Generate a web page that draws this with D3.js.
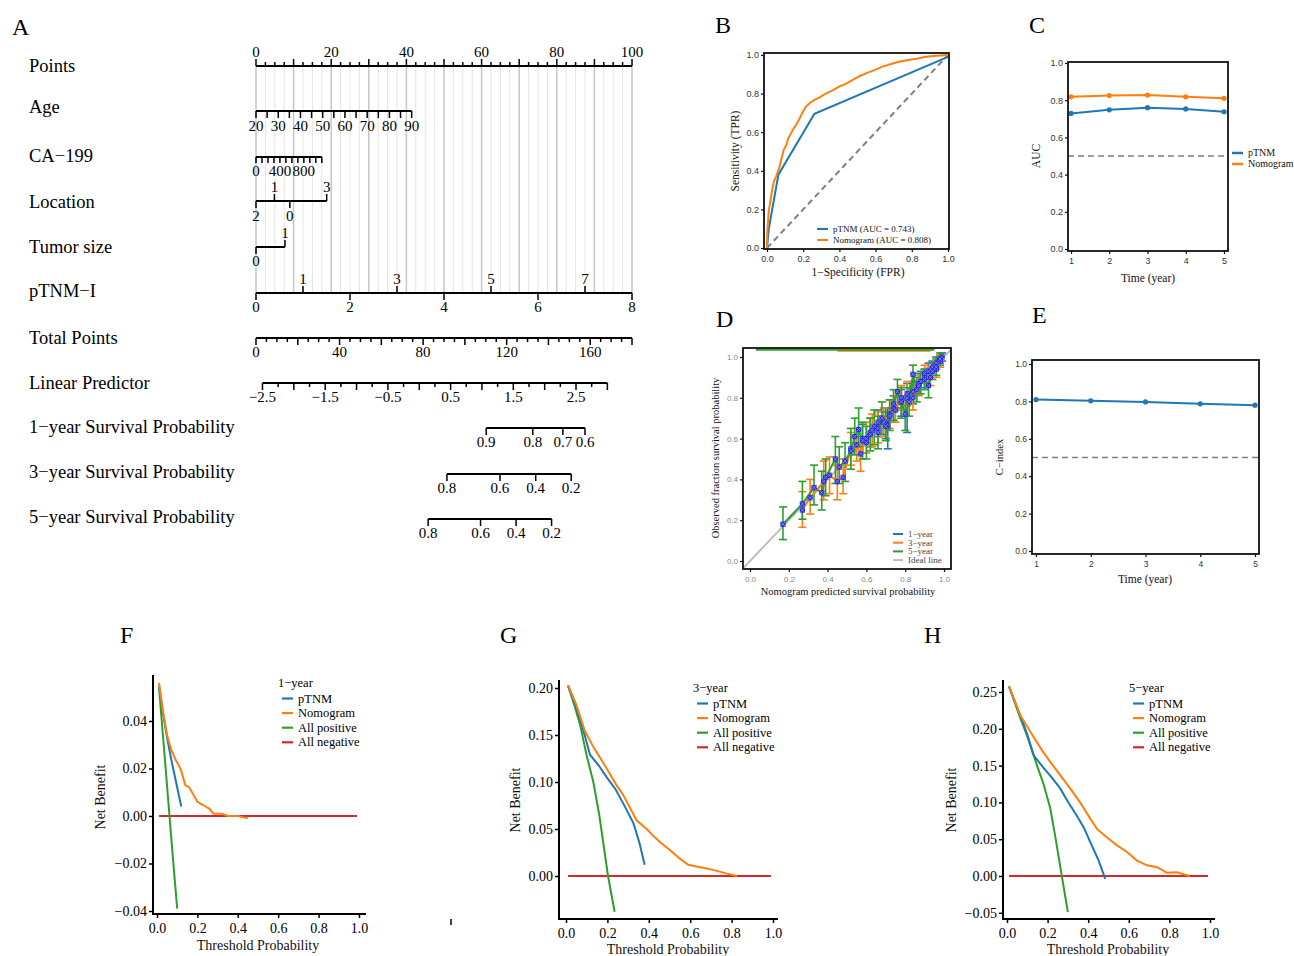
<!DOCTYPE html>
<html>
<head>
<meta charset="utf-8">
<script src="https://cdn.jsdelivr.net/npm/d3@7/dist/d3.min.js"></script>
<style>
  body { margin: 0; background: #fff; }
  text { font-family: "Liberation Serif", "Times New Roman", serif; }
</style>
</head>
<body>
<div id="fig"></div>
<script>
// ---------------- data ----------------
// A: nomogram (positions of each level expressed in "Points")
const pointTicks = d3.range(0, 100.01, 2.5);
const pointLabels = [0, 20, 40, 60, 80, 100];
const ageTicks = d3.range(20, 90.01, 5);
const ageLabels = [20, 30, 40, 50, 60, 70, 80, 90];
const ageDomain = [20, 90], agePoints = [0, 41.4];
const caTicks = d3.range(0, 1100.01, 100);
const caLabels = [0, 400, 800];
const caDomain = [0, 1100], caPoints = [0, 17.5];
const locationLevels = ["2", "1", "0", "3"];
const locationPoints = [0, 4.9, 9.0, 18.8];
const locationAbove = [false, true, false, true];
const tumorLevels = ["0", "1"];
const tumorPoints = [0, 7.7];
const tnmLevels = [0, 1, 2, 3, 4, 5, 6, 7, 8];
const tnmDomain = [0, 8], tnmPoints = [0, 100];
const totalTicks = d3.range(0, 180.01, 5);
const totalLabels = [0, 40, 80, 120, 160];
const totalMax = 180;
const lpTicks = d3.range(-2.5, 3.01, 0.25);
const lpLabels = [-2.5, -1.5, -0.5, 0.5, 1.5, 2.5];
const lpDomain = [-2.5, 2.5], lpTotal = [3.1, 153.2];
const surv1Labels = ["0.9", "0.8", "0.7", "0.6"], surv1Total = [110.2, 132.5, 146.9, 157.5];
const surv3Labels = ["0.8", "0.6", "0.4", "0.2"], surv3Total = [91.4, 116.8, 133.9, 150.9];
const surv5Labels = ["0.8", "0.6", "0.4", "0.2"], surv5Total = [82.4, 107.5, 124.5, 141.5];
const rowNames = ["Points", "Age", "CA\u2212199", "Location", "Tumor size", "pTNM\u2212I",
  "Total Points", "Linear Predictor", "1\u2212year Survival Probability",
  "3\u2212year Survival Probability", "5\u2212year Survival Probability"];

// B: ROC
const rocTnm = [[0, 0], [0.01, 0.1], [0.063, 0.38], [0.262, 0.695], [1, 0.99], [1, 1]];
const rocNomo = [[0, 0], [0.002, 0.09], [0.01, 0.195], [0.02, 0.25], [0.028, 0.3], [0.04, 0.35],
  [0.05, 0.37], [0.066, 0.41], [0.074, 0.44], [0.085, 0.48], [0.093, 0.51], [0.105, 0.53],
  [0.117, 0.567], [0.13, 0.59], [0.148, 0.62], [0.162, 0.64], [0.176, 0.663], [0.195, 0.7],
  [0.213, 0.73], [0.235, 0.75], [0.26, 0.766], [0.29, 0.78], [0.324, 0.80], [0.36, 0.815],
  [0.398, 0.836], [0.435, 0.85], [0.472, 0.87], [0.51, 0.89], [0.546, 0.905], [0.59, 0.92],
  [0.639, 0.94], [0.685, 0.953], [0.731, 0.965], [0.78, 0.974], [0.824, 0.98], [0.87, 0.99],
  [0.917, 0.995], [0.96, 0.998], [1, 1]];
const rocNames = ["pTNM (AUC = 0.743)", "Nomogram (AUC = 0.808)"];

// C: time-dependent AUC
const years = [1, 2, 3, 4, 5];
const aucTnm = [0.729, 0.748, 0.760, 0.753, 0.738];
const aucNomo = [0.818, 0.825, 0.828, 0.818, 0.810];

// D: calibration [predicted, observed, lower, upper]
const cal1 = [[0.58, 0.60, 0.53, 0.67], [0.62, 0.63, 0.56, 0.70], [0.66, 0.68, 0.61, 0.74],
  [0.70, 0.68, 0.60, 0.75], [0.71, 0.66, 0.55, 0.75], [0.74, 0.75, 0.68, 0.81],
  [0.78, 0.78, 0.71, 0.84], [0.81, 0.80, 0.63, 0.87], [0.84, 0.83, 0.77, 0.88],
  [0.87, 0.87, 0.82, 0.92], [0.90, 0.90, 0.85, 0.94], [0.92, 0.93, 0.89, 0.97],
  [0.94, 0.95, 0.91, 0.98], [0.96, 0.97, 0.94, 1.0], [0.98, 0.99, 0.97, 1.01], [0.99, 1.0, 0.98, 1.02]];
const cal3 = [[0.27, 0.25, 0.165, 0.34], [0.31, 0.31, 0.23, 0.40], [0.38, 0.39, 0.30, 0.49],
  [0.41, 0.42, 0.33, 0.51], [0.45, 0.39, 0.30, 0.47], [0.48, 0.41, 0.33, 0.50],
  [0.52, 0.55, 0.47, 0.63], [0.55, 0.57, 0.49, 0.65], [0.57, 0.525, 0.44, 0.61],
  [0.60, 0.60, 0.53, 0.68], [0.63, 0.64, 0.56, 0.72], [0.66, 0.65, 0.58, 0.73],
  [0.69, 0.68, 0.61, 0.75], [0.72, 0.72, 0.65, 0.79], [0.75, 0.74, 0.68, 0.81],
  [0.78, 0.80, 0.74, 0.86], [0.81, 0.82, 0.76, 0.88], [0.84, 0.80, 0.74, 0.86],
  [0.87, 0.86, 0.81, 0.91], [0.90, 0.92, 0.87, 0.96], [0.93, 0.90, 0.86, 0.95],
  [0.96, 0.94, 0.90, 0.98], [0.98, 0.98, 0.95, 1.01]];
const cal5 = [[0.17, 0.18, 0.105, 0.265], [0.27, 0.28, 0.205, 0.39], [0.33, 0.36, 0.275, 0.47],
  [0.37, 0.335, 0.25, 0.44], [0.39, 0.41, 0.32, 0.50], [0.44, 0.50, 0.38, 0.61],
  [0.46, 0.46, 0.38, 0.56], [0.49, 0.49, 0.39, 0.58], [0.52, 0.54, 0.45, 0.65],
  [0.54, 0.61, 0.52, 0.70], [0.56, 0.645, 0.56, 0.75], [0.58, 0.59, 0.50, 0.68],
  [0.60, 0.58, 0.50, 0.66], [0.62, 0.62, 0.54, 0.70], [0.64, 0.66, 0.57, 0.74],
  [0.66, 0.63, 0.55, 0.71], [0.68, 0.70, 0.62, 0.78], [0.70, 0.66, 0.59, 0.73],
  [0.72, 0.71, 0.64, 0.79], [0.74, 0.77, 0.69, 0.84], [0.76, 0.83, 0.75, 0.89],
  [0.78, 0.78, 0.70, 0.85], [0.80, 0.72, 0.64, 0.79], [0.82, 0.78, 0.71, 0.85],
  [0.84, 0.915, 0.86, 0.96], [0.86, 0.84, 0.78, 0.90], [0.88, 0.88, 0.82, 0.93],
  [0.90, 0.89, 0.84, 0.94], [0.92, 0.86, 0.80, 0.91], [0.94, 0.93, 0.89, 0.97],
  [0.96, 0.95, 0.91, 0.99], [0.98, 0.99, 0.96, 1.02]];
const calTop5 = [[0.03, 1.036], [0.95, 1.036]];
const calTop3 = [[0.45, 1.031], [0.93, 1.031]];
const calNames = ["1\u2212year", "3\u2212year", "5\u2212year", "Ideal line"];

// E: C-index
const cIndex = [0.810, 0.803, 0.797, 0.787, 0.780];

// F-H: decision curves [threshold, net benefit]
const dca1 = {
  tnm: [[0.01, 0.055], [0.03, 0.043], [0.05, 0.033], [0.07, 0.024], [0.09, 0.016], [0.11, 0.008], [0.12, 0.004]],
  nomo: [[0.01, 0.056], [0.03, 0.044], [0.05, 0.034], [0.07, 0.028], [0.09, 0.024], [0.11, 0.021],
    [0.12, 0.019], [0.14, 0.013], [0.16, 0.012], [0.18, 0.009], [0.2, 0.006], [0.22, 0.005],
    [0.24, 0.004], [0.26, 0.003], [0.28, 0.001], [0.3, 0.001], [0.32, 0.001], [0.35, 0.0],
    [0.4, 0.0], [0.45, -0.001]],
  pos: [[0.01, 0.054], [0.04, 0.023], [0.06, 0.002], [0.08, -0.019], [0.10, -0.039]],
  neg: [[0.01, 0], [0.99, 0]]
};
const dca3 = {
  tnm: [[0.01, 0.202], [0.05, 0.179], [0.09, 0.15], [0.116, 0.129], [0.16, 0.117], [0.197, 0.105],
    [0.24, 0.092], [0.277, 0.077], [0.326, 0.056], [0.355, 0.035], [0.38, 0.012]],
  nomo: [[0.01, 0.203], [0.05, 0.182], [0.09, 0.155], [0.13, 0.138], [0.17, 0.124], [0.2, 0.113],
    [0.24, 0.098], [0.277, 0.086], [0.31, 0.072], [0.342, 0.059], [0.39, 0.05], [0.42, 0.043],
    [0.455, 0.036], [0.5, 0.028], [0.55, 0.0185], [0.59, 0.012], [0.63, 0.010], [0.68, 0.008],
    [0.72, 0.006], [0.777, 0.0025], [0.826, 0.0]],
  pos: [[0.01, 0.203], [0.04, 0.182], [0.068, 0.161], [0.1, 0.128], [0.132, 0.1], [0.16, 0.066],
    [0.203, 0.0], [0.235, -0.038]],
  neg: [[0.01, 0], [0.99, 0]]
};
const dca5 = {
  tnm: [[0.01, 0.257], [0.066, 0.218], [0.1, 0.192], [0.131, 0.164], [0.18, 0.147], [0.22, 0.134],
    [0.262, 0.119], [0.3, 0.101], [0.344, 0.082], [0.38, 0.065], [0.41, 0.046], [0.45, 0.022],
    [0.484, -0.004]],
  nomo: [[0.01, 0.258], [0.066, 0.218], [0.115, 0.196], [0.172, 0.171], [0.213, 0.155],
    [0.262, 0.137], [0.311, 0.119], [0.36, 0.10], [0.41, 0.078], [0.443, 0.064], [0.49, 0.053],
    [0.54, 0.042], [0.59, 0.033], [0.64, 0.021], [0.69, 0.0145], [0.74, 0.012], [0.787, 0.0045],
    [0.836, 0.005], [0.9, 0.0]],
  pos: [[0.01, 0.258], [0.066, 0.214], [0.1, 0.19], [0.148, 0.15], [0.18, 0.125], [0.213, 0.092],
    [0.24, 0.05], [0.27, 0.0], [0.3, -0.049]],
  neg: [[0.01, 0], [0.99, 0]]
};
const dcaNames = ["pTNM", "Nomogram", "All positive", "All negative"];

const blue = "#1f77b4", orange = "#ff7f0e", green = "#2ca02c", red = "#d62728";
const sans = '"Liberation Sans", Arial, sans-serif';

// ---------------- figure ----------------
const svg = d3.select("#fig").append("svg").attr("width", 1294).attr("height", 956);

[["A", 12, 35], ["B", 715, 33], ["C", 1029, 33], ["D", 716, 327], ["E", 1032, 323],
 ["F", 120, 643], ["G", 500, 643], ["H", 924, 643]].forEach(([t, x, y]) => {
  svg.append("text").attr("x", x).attr("y", y).style("font-size", "24px").text(t);
});

// ---- A: nomogram ----
const A = svg.append("g");
const ptsX = d3.scaleLinear().domain([0, 100]).range([256, 632]);
const totX = d3.scaleLinear().domain([0, totalMax]).range([256, 632]);

A.selectAll(".grid").data(pointTicks).join("line")
  .attr("x1", d => ptsX(d)).attr("x2", d => ptsX(d))
  .attr("y1", 66).attr("y2", 293)
  .attr("stroke", d => d % 10 === 0 ? "#c6c6c6" : "#e4e4e4")
  .attr("stroke-width", d => d % 10 === 0 ? 1.5 : 1);

const rowY = [72, 113, 162, 208, 253, 297, 344, 389, 433, 478, 523];
rowNames.forEach((n, i) => {
  A.append("text").attr("x", 29).attr("y", rowY[i]).style("font-size", "18.5px").text(n);
});

function hline(x1, x2, y) {
  A.append("line").attr("x1", x1).attr("x2", x2).attr("y1", y).attr("y2", y)
    .attr("stroke", "#000").attr("stroke-width", 2);
}
function tick(x, y, len) {
  A.append("line").attr("x1", x).attr("x2", x).attr("y1", y).attr("y2", y + len)
    .attr("stroke", "#000").attr("stroke-width", 1.5);
}
function lab(x, y, t) {
  A.append("text").attr("x", x).attr("y", y).attr("text-anchor", "middle")
    .style("font-size", "15px").text(t);
}

// Points
hline(ptsX(0), ptsX(100), 66);
pointTicks.forEach(d => tick(ptsX(d), 66, d % 10 === 0 ? -7 : -4));
pointLabels.forEach(d => lab(ptsX(d), 57, d));

// Age
const ageX = d => ptsX(d3.scaleLinear().domain(ageDomain).range(agePoints)(d));
hline(ageX(20), ageX(90), 111);
ageTicks.forEach(d => tick(ageX(d), 111, 7));
ageLabels.forEach(d => lab(ageX(d), 131, d));

// CA-199
const caX = d => ptsX(d3.scaleLinear().domain(caDomain).range(caPoints)(d));
hline(caX(0), caX(1100), 157);
caTicks.forEach(d => tick(caX(d), 157, 6));
caLabels.forEach(d => lab(caX(d), 176, d));

// Location
hline(ptsX(0), ptsX(d3.max(locationPoints)), 201);
locationLevels.forEach((l, i) => {
  const x = ptsX(locationPoints[i]);
  tick(x, 201, locationAbove[i] ? -7 : 7);
  lab(x, locationAbove[i] ? 192 : 221, l);
});

// Tumor size
hline(ptsX(0), ptsX(d3.max(tumorPoints)), 247);
tumorLevels.forEach((l, i) => {
  const x = ptsX(tumorPoints[i]);
  tick(x, 247, i ? -7 : 7);
  lab(x, i ? 238 : 266, l);
});

// pTNM-I
const tnmX = d => ptsX(d3.scaleLinear().domain(tnmDomain).range(tnmPoints)(d));
hline(tnmX(0), tnmX(8), 293);
tnmLevels.forEach(d => {
  const odd = d % 2 === 1;
  tick(tnmX(d), 293, odd ? -7 : 7);
  lab(tnmX(d), odd ? 284 : 312, d);
});

// Total points
hline(totX(0), totX(totalMax), 338);
totalTicks.forEach(d => tick(totX(d), 338, d % 20 === 0 ? 7 : 4));
totalLabels.forEach(d => lab(totX(d), 357, d));

// Linear predictor
const lpX = d => totX(d3.scaleLinear().domain(lpDomain).range(lpTotal)(d));
hline(lpX(-2.5), lpX(3.0), 383);
lpTicks.forEach(d => tick(lpX(d), 383, Math.abs(d * 2 - Math.round(d * 2)) < 1e-6 ? 7 : 4));
lpLabels.forEach(d => lab(lpX(d), 402, d3.format(".1f")(d)));

// Survival probabilities
[[surv1Labels, surv1Total, 428], [surv3Labels, surv3Total, 474], [surv5Labels, surv5Total, 519]]
  .forEach(([labels, tots, y]) => {
    hline(totX(d3.min(tots)), totX(d3.max(tots)), y);
    tots.forEach((t, i) => {
      tick(totX(t), y, 7);
      lab(totX(t), y + 19, labels[i]);
    });
  });

// ---- shared helpers for boxed panels ----
function boxed(g, x, y, frame, xt, yt, xf, yf, fs, col) {
  g.append("rect").attr("x", frame[0]).attr("y", frame[2])
    .attr("width", frame[1] - frame[0]).attr("height", frame[3] - frame[2])
    .attr("fill", "none").attr("stroke", "#111").attr("stroke-width", 1.8);
  const ax = g.append("g").attr("transform", `translate(0,${frame[3]})`)
    .call(d3.axisBottom(x).tickValues(xt).tickFormat(xf).tickSize(3).tickPadding(4));
  const ay = g.append("g").attr("transform", `translate(${frame[0]},0)`)
    .call(d3.axisLeft(y).tickValues(yt).tickFormat(yf).tickSize(3).tickPadding(2));
  [ax, ay].forEach(a => {
    a.select(".domain").remove();
    a.selectAll("line").attr("stroke", "#111").attr("stroke-width", 1.2);
    a.selectAll("text").style("font-family", sans).style("font-size", fs + "px").attr("fill", col);
  });
}
function title(g, x, y, t, fs, rot) {
  g.append("text").attr("text-anchor", "middle")
    .attr("transform", `translate(${x},${y})` + (rot ? " rotate(-90)" : ""))
    .style("font-size", fs + "px").attr("fill", "#111").text(t);
}
function legendRow(g, x, y, len, color, t, fs, col, w) {
  g.append("line").attr("x1", x).attr("x2", x + len).attr("y1", y).attr("y2", y)
    .attr("stroke", color).attr("stroke-width", w || 2);
  g.append("text").attr("x", x + len + 5).attr("y", y).attr("dy", "0.33em")
    .style("font-size", fs + "px").attr("fill", col || "#111").text(t);
}

// ---- B: ROC ----
const B = svg.append("g");
const bx = d3.scaleLinear().domain([0, 1]).range([767, 948]);
const by = d3.scaleLinear().domain([0, 1]).range([248, 55]);
const bline = d3.line().x(d => bx(d[0])).y(d => by(d[1]));
B.append("path").datum([[0, 0], [1, 1]]).attr("d", bline).attr("fill", "none")
  .attr("stroke", "#7f7f7f").attr("stroke-width", 2).attr("stroke-dasharray", "6,4");
B.append("path").datum(rocTnm).attr("d", bline).attr("fill", "none").attr("stroke", blue).attr("stroke-width", 2);
B.append("path").datum(rocNomo).attr("d", bline).attr("fill", "none").attr("stroke", orange).attr("stroke-width", 2);
boxed(B, bx, by, [764, 949, 53, 249], d3.range(0, 1.01, 0.2), d3.range(0, 1.01, 0.2),
  d3.format(".1f"), d3.format(".1f"), 9, "#333");
title(B, 858, 276, "1\u2212Specificity (FPR)", 11.5);
title(B, 739, 151, "Sensitivity (TPR)", 11.5, true);
legendRow(B, 817, 229, 11, blue, rocNames[0], 9);
legendRow(B, 817, 240, 11, orange, rocNames[1], 9);

// ---- C: AUC over time ----
const C = svg.append("g");
const cx = d3.scaleLinear().domain([1, 5]).range([1071, 1224]);
const cy = d3.scaleLinear().domain([0, 1]).range([249, 63]);
C.append("line").attr("x1", 1068).attr("x2", 1228).attr("y1", cy(0.5)).attr("y2", cy(0.5))
  .attr("stroke", "#7f7f7f").attr("stroke-width", 1.6).attr("stroke-dasharray", "6,4");
[[aucTnm, blue], [aucNomo, orange]].forEach(([vals, col]) => {
  C.append("path").datum(vals).attr("fill", "none").attr("stroke", col).attr("stroke-width", 2)
    .attr("d", d3.line().x((d, i) => cx(years[i])).y(d => cy(d)));
  C.selectAll(null).data(vals).join("circle").attr("cx", (d, i) => cx(years[i])).attr("cy", d => cy(d))
    .attr("r", 2.6).attr("fill", col);
});
boxed(C, cx, cy, [1068, 1228, 62, 251], years, d3.range(0, 1.01, 0.2), d3.format("d"), d3.format(".1f"), 9, "#333");
title(C, 1148, 282, "Time (year)", 11.5);
title(C, 1040, 156, "AUC", 11.5, true);
legendRow(C, 1232, 153, 11, blue, "pTNM", 10, "#111", 2.5);
legendRow(C, 1232, 164, 11, orange, "Nomogram", 10, "#111", 2.5);

// ---- D: calibration ----
const D = svg.append("g");
const dx = d3.scaleLinear().domain([0, 1]).range([750, 944]);
const dy = d3.scaleLinear().domain([0, 1]).range([561, 357]);
svg.append("clipPath").attr("id", "clipD").append("rect")
  .attr("x", 743).attr("y", 348).attr("width", 208).attr("height", 221);
const Dc = D.append("g").attr("clip-path", "url(#clipD)");
const dline = d3.line().x(d => dx(d[0])).y(d => dy(d[1]));
Dc.append("path").datum([[-0.05, -0.05], [1.05, 1.05]]).attr("d", dline)
  .attr("stroke", "#bdbdbd").attr("stroke-width", 2).attr("fill", "none");
Dc.append("path").datum(calTop3).attr("d", dline).attr("stroke", orange).attr("stroke-width", 2).attr("fill", "none");
Dc.append("path").datum(calTop5).attr("d", dline).attr("stroke", green).attr("stroke-width", 2).attr("fill", "none");
const calSets = [[cal1, blue], [cal3, orange], [cal5, green]];
calSets.forEach(([set, col]) => {
  const eb = Dc.append("g").attr("stroke", col).attr("stroke-width", 1.6);
  set.forEach(d => {
    eb.append("line").attr("x1", dx(d[0])).attr("x2", dx(d[0])).attr("y1", dy(d[2])).attr("y2", dy(d[3]));
    eb.append("line").attr("x1", dx(d[0]) - 4).attr("x2", dx(d[0]) + 4).attr("y1", dy(d[2])).attr("y2", dy(d[2]));
    eb.append("line").attr("x1", dx(d[0]) - 4).attr("x2", dx(d[0]) + 4).attr("y1", dy(d[3])).attr("y2", dy(d[3]));
  });
});
calSets.forEach(([set, col]) => {
  Dc.append("path").datum(set).attr("d", dline).attr("fill", "none").attr("stroke", col).attr("stroke-width", 2);
});
calSets.forEach(([set]) => {
  set.forEach(d => {
    const px = dx(d[0]), py = dy(d[1]);
    Dc.append("rect").attr("x", px - 2.6).attr("y", py - 2.6).attr("width", 5.2).attr("height", 5.2).attr("fill", "#2626d9");
    Dc.append("path").attr("d", `M${px - 2.2},${py - 2.2}L${px + 2.2},${py + 2.2}M${px - 2.2},${py + 2.2}L${px + 2.2},${py - 2.2}`)
      .attr("stroke", "#9a9aff").attr("stroke-width", 0.8);
  });
});
boxed(D, dx, dy, [743, 951, 348, 569], d3.range(0, 1.01, 0.2), d3.range(0, 1.01, 0.2),
  d3.format(".1f"), d3.format(".1f"), 8, "#888");
title(D, 848, 595, "Nomogram predicted survival probability", 10.5);
title(D, 719, 458, "Observed fraction survival probability", 10.5, true);
[blue, orange, green, "#bdbdbd"].forEach((c, i) => {
  legendRow(D, 893, 534 + i * 8.7, 10, c, calNames[i], 9, "#444", 2);
});

// ---- E: C-index ----
const E = svg.append("g");
const ex = d3.scaleLinear().domain([1, 5]).range([1036, 1255]);
const ey = d3.scaleLinear().domain([0, 1]).range([551, 364]);
E.append("line").attr("x1", 1032).attr("x2", 1259).attr("y1", ey(0.5)).attr("y2", ey(0.5))
  .attr("stroke", "#7f7f7f").attr("stroke-width", 1.6).attr("stroke-dasharray", "6,4");
E.append("path").datum(cIndex).attr("fill", "none").attr("stroke", blue).attr("stroke-width", 2)
  .attr("d", d3.line().x((d, i) => ex(years[i])).y(d => ey(d)));
E.selectAll(null).data(cIndex).join("circle").attr("cx", (d, i) => ex(years[i])).attr("cy", d => ey(d))
  .attr("r", 2.6).attr("fill", blue);
boxed(E, ex, ey, [1032, 1259, 360, 554], years, d3.range(0, 1.01, 0.2), d3.format("d"), d3.format(".1f"), 8.5, "#333");
title(E, 1145, 583, "Time (year)", 11.5);
title(E, 1003, 457, "C\u2212index", 10.5, true);

// ---- F-H: decision curves ----
function dcaPanel(set, yearLabel, xr, yd, yr, spine, yt, leg, tpos) {
  const g = svg.append("g");
  const x = d3.scaleLinear().domain([0, 1]).range(xr);
  const y = d3.scaleLinear().domain(yd).range(yr);
  const ln = d3.line().x(d => x(d[0])).y(d => y(d[1]));
  [[set.neg, red], [set.pos, green], [set.tnm, blue], [set.nomo, orange]].forEach(([s, c]) => {
    g.append("path").datum(s).attr("d", ln).attr("fill", "none").attr("stroke", c).attr("stroke-width", 2);
  });
  const ax = g.append("g").attr("transform", `translate(0,${spine.bottom})`)
    .call(d3.axisBottom(x).tickValues(d3.range(0, 1.01, 0.2)).tickFormat(d3.format(".1f")).tickSize(4).tickPadding(5));
  const ay = g.append("g").attr("transform", `translate(${spine.left},0)`)
    .call(d3.axisLeft(y).tickValues(yt).tickFormat(d3.format(".2f")).tickSize(4).tickPadding(2));
  [ax, ay].forEach(a => {
    a.select(".domain").remove();
    a.selectAll("line").attr("stroke", "#000").attr("stroke-width", 1.5);
    a.selectAll("text").style("font-family", '"Liberation Serif", serif').style("font-size", "14px").attr("fill", "#000");
  });
  g.append("path").attr("d", `M${spine.left},${spine.top}V${spine.bottom}H${spine.right}`)
    .attr("fill", "none").attr("stroke", "#000").attr("stroke-width", 2);
  title(g, tpos[0], tpos[1], "Threshold Probability", 14);
  title(g, tpos[2], tpos[3], "Net Benefit", 14, true);
  g.append("text").attr("x", leg[0] - 4).attr("y", leg[1]).attr("dy", "0.33em")
    .style("font-size", "12.5px").text(yearLabel);
  [blue, orange, green, red].forEach((c, i) => {
    legendRow(g, leg[0], leg[1] + 15.5 + i * 14.6, 11, c, dcaNames[i], 12.5, "#000", 2.2);
  });
}
dcaPanel(dca1, "1\u2212year", [157, 359], [0, 0.04], [816, 721],
  { left: 153, top: 675, bottom: 914, right: 366 }, [-0.04, -0.02, 0, 0.02, 0.04],
  [282, 683], [258, 950, 105, 797]);
dcaPanel(dca3, "3\u2212year", [566, 773], [0, 0.2], [876, 688],
  { left: 559, top: 680, bottom: 919, right: 778 }, [0, 0.05, 0.1, 0.15, 0.2],
  [697, 688], [668, 954, 520, 800]);
dcaPanel(dca5, "5\u2212year", [1007, 1210], [0, 0.25], [876, 692],
  { left: 1003, top: 680, bottom: 919, right: 1215 }, [-0.05, 0, 0.05, 0.1, 0.15, 0.2, 0.25],
  [1133, 688], [1108, 954, 956, 800]);

// small stray mark in the original figure
svg.append("line").attr("x1", 451).attr("x2", 451).attr("y1", 919).attr("y2", 925)
  .attr("stroke", "#000").attr("stroke-width", 1.5);
</script>
</body>
</html>
